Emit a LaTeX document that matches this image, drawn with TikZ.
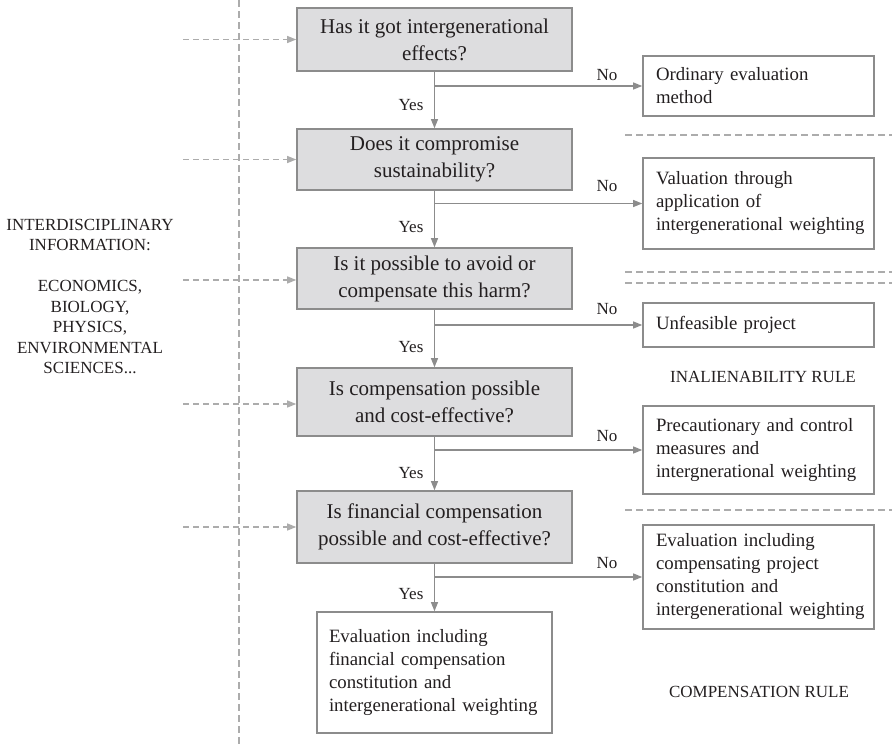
\documentclass[tikz,border=0pt]{standalone}
\usepackage{fontspec}
\setmainfont{Liberation Serif}
\usetikzlibrary{arrows.meta}
\definecolor{ln}{RGB}{140,140,140}
\definecolor{bx}{RGB}{221,221,223}
\definecolor{dsh}{RGB}{172,172,172}
\definecolor{tx}{RGB}{35,31,32}
\begin{document}
\begin{tikzpicture}[x=1pt,y=-1pt,
  qbox/.style={draw=ln, line width=1.6pt, fill=bx, minimum width=275pt, align=center,
    font=\fontsize{21}{27}\selectfont, text=tx, inner sep=0pt},
  rbox/.style={draw=ln, line width=1.6pt, fill=white, text width=205pt, align=left,
    font=\fontsize{18.8}{23}\selectfont, text=tx, inner xsep=13pt, inner ysep=0pt},
  lbl/.style={font=\fontsize{17}{20.5}\selectfont, text=tx, inner sep=0pt},
  conn/.style={draw=ln, line width=1.2pt, -{Triangle[length=9pt,width=7pt]}},
  dasharrow/.style={draw=dsh, line width=1.2pt, dash pattern=on 6pt off 4pt, -{Triangle[length=9pt,width=7pt]}},
  dashline/.style={draw=dsh, line width=1.2pt, dash pattern=on 7pt off 4pt}
]
\useasboundingbox (0,0) rectangle (892,744);

% vertical dashed separator
\coordinate (vt) at (239,0);
\coordinate (vb) at (239,744);
\draw[dashline] (vt) -- (vb);

% question boxes
\node[qbox, minimum height=63pt] (q1) at (434.5,39.5) {Has it got intergenerational\\effects?};
\node[qbox, minimum height=61pt] (q2) at (434.5,159.5) {Does it compromise\\sustainability?};
\node[qbox, minimum height=61pt] (q3) at (434.5,278.5) {Is it possible to avoid or\\compensate this harm?};
\node[qbox, minimum height=68pt] (q4) at (434.5,402) {Is compensation possible\\and cost-effective?};
\node[qbox, minimum height=72pt] (q5) at (434.5,527) {Is financial compensation\\possible and cost-effective?};

% result boxes
\node[rbox, minimum height=60pt] (r1) at (758.5,86) {Ordinary evaluation\\method};
\node[rbox, minimum height=91pt] (r2) at (758.5,203.5) {Valuation through\\application of\\\mbox{intergenerational weighting}};
\node[rbox, minimum height=44pt] (r3) at (758.5,325) {Unfeasible project};
\node[rbox, minimum height=88pt] (r4) at (758.5,450) {Precautionary and control\\measures and\\\mbox{intergnerational weighting}};
\node[rbox, minimum height=104pt] (r5) at (758.5,577) {Evaluation including\\compensating project\\constitution and\\\mbox{intergenerational weighting}};
\node[rbox, text width=211pt, inner xsep=12pt, minimum height=121pt] (f) at (434.5,672.5) {Evaluation including\\financial compensation\\constitution and\\\mbox{intergenerational weighting}};

% main vertical connectors
\draw[conn] (q1.south) -- (q2.north);
\draw[conn] (q2.south) -- (q3.north);
\draw[conn] (q3.south) -- (q4.north);
\draw[conn] (q4.south) -- (q5.north);
\draw[conn] (q5.south) -- (f.north);

% branches
\draw[conn] (q1.south |- r1.west) -- (r1.west);
\draw[conn] (q2.south |- r2.west) -- (r2.west);
\draw[conn] (q3.south |- r3.west) -- (r3.west);
\draw[conn] (q4.south |- r4.west) -- (r4.west);
\draw[conn] (q5.south |- r5.west) -- (r5.west);

% labels
\node[lbl] (y1) at (411,105) {Yes};
\node[lbl] (y2) at (411,227) {Yes};
\node[lbl] (y3) at (411,347) {Yes};
\node[lbl] (y4) at (411,473) {Yes};
\node[lbl] (y5) at (411,594) {Yes};
\node[lbl] (n1) at (607,75) {No};
\node[lbl] (n2) at (607,186) {No};
\node[lbl] (n3) at (607,309) {No};
\node[lbl] (n4) at (607,436) {No};
\node[lbl] (n5) at (607,563) {No};

% left dashed inputs
\coordinate (l1) at (183,39.5);
\coordinate (l2) at (183,159.5);
\coordinate (l3) at (183,280);
\coordinate (l4) at (183,404);
\coordinate (l5) at (183,527);
\draw[dasharrow] (l1) -- (q1.west);
\draw[dasharrow] (l2) -- (q2.west);
\draw[dasharrow] (l3) -- (q3.west |- l3);
\draw[dasharrow] (l4) -- (q4.west |- l4);
\draw[dasharrow] (l5) -- (q5.west);

% left info text
\node[lbl, align=center] (info) at (90,296.5) {INTERDISCIPLINARY\\INFORMATION:\\[20.5pt]ECONOMICS,\\BIOLOGY,\\PHYSICS,\\ENVIRONMENTAL\\SCIENCES...};

% right dashed separators
\coordinate (s1a) at (625,135); \coordinate (s1b) at (892,135);
\coordinate (s2a) at (625,272); \coordinate (s2b) at (892,272);
\coordinate (s3a) at (625,283); \coordinate (s3b) at (892,283);
\coordinate (s4a) at (625,510); \coordinate (s4b) at (892,510);
\draw[dashline] (s1a) -- (s1b);
\draw[dashline] (s2a) -- (s2b);
\draw[dashline] (s3a) -- (s3b);
\draw[dashline] (s4a) -- (s4b);

% rule labels
\node[lbl] (inal) at (763,377) {INALIENABILITY RULE};
\node[lbl] (comp) at (759,692) {COMPENSATION RULE};
\end{tikzpicture}
\end{document}
